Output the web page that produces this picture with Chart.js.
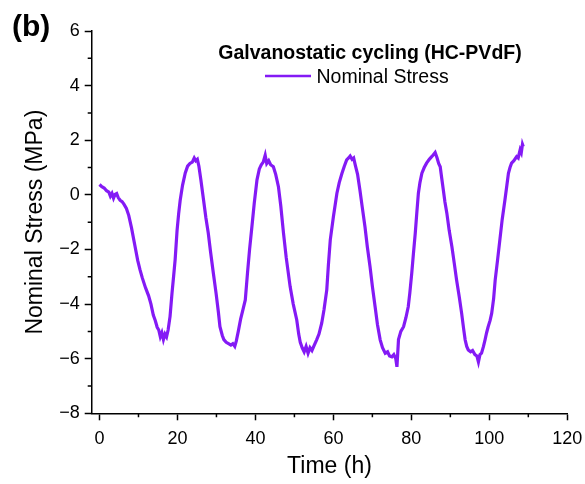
<!DOCTYPE html>
<html>
<head>
<meta charset="utf-8">
<script src="https://cdn.jsdelivr.net/npm/chart.js@4/dist/chart.umd.min.js"></script>
<style>
  html, body { margin: 0; padding: 0; background: #ffffff; }
  #wrap { width: 585px; height: 484px; position: relative; }
</style>
</head>
<body>
<div id="wrap"><canvas id="c" width="585" height="484"></canvas></div>
<script>
// ---- data ----
const time = [0.0,0.6,1.2,1.8,2.4,2.8,3.2,3.6,4.0,4.4,4.8,5.3,5.8,6.3,6.9,7.5,8.2,9.0,9.8,10.4,11.0,11.8,12.6,13.2,13.8,14.3,14.8,15.2,15.6,16.0,16.4,16.8,17.2,17.6,18.1,18.6,19.0,19.4,19.9,20.3,20.7,21.3,22.0,22.6,23.2,23.8,24.3,24.7,25.1,25.5,26.0,26.7,27.3,27.9,28.5,29.2,29.9,30.5,30.9,31.5,31.9,32.5,33.1,33.7,34.2,34.7,35.1,35.6,36.2,36.8,37.4,38.0,38.5,39.1,39.7,40.4,41.0,41.5,42.0,42.5,42.9,43.4,43.9,44.6,45.2,45.9,46.5,47.2,47.9,48.9,49.7,50.6,51.1,51.5,52.0,52.5,53.0,53.5,54.0,54.5,55.1,55.7,56.3,57.0,57.6,58.3,58.7,59.2,60.0,60.9,61.5,62.2,62.8,63.4,63.9,64.3,64.8,65.2,65.6,66.2,66.8,67.4,68.1,68.7,69.4,70.0,70.7,71.3,72.0,72.6,73.3,73.9,74.4,75.0,75.5,76.0,76.3,76.7,77.3,78.0,78.6,79.2,79.6,80.1,80.5,81.0,81.4,81.8,82.2,82.7,83.3,83.9,84.6,85.1,85.6,86.1,86.6,87.0,87.4,87.8,88.2,88.6,89.1,89.7,90.4,91.0,91.6,92.3,92.9,93.4,93.8,94.2,94.6,95.2,95.7,96.3,96.8,97.2,97.6,98.0,98.5,98.9,99.3,99.7,100.2,100.6,101.1,101.5,102.1,102.7,103.3,104.0,104.5,104.9,105.3,105.7,106.3,107.0,107.4,107.9,108.2,108.5,108.7];
const stress = [0.38,0.30,0.25,0.15,0.10,-0.05,0.05,-0.12,0.02,0.05,-0.10,-0.20,-0.25,-0.35,-0.50,-0.75,-1.20,-1.80,-2.40,-2.75,-3.05,-3.40,-3.70,-4.00,-4.40,-4.60,-4.85,-4.95,-5.20,-5.05,-5.30,-5.10,-5.20,-4.95,-4.45,-3.60,-3.00,-2.38,-1.30,-0.70,-0.20,0.35,0.80,1.05,1.15,1.20,1.35,1.25,1.30,1.05,0.55,-0.20,-0.85,-1.40,-2.10,-2.86,-3.60,-4.30,-4.83,-5.15,-5.30,-5.40,-5.45,-5.50,-5.45,-5.55,-5.35,-5.00,-4.55,-4.20,-3.85,-2.80,-2.00,-1.16,-0.30,0.55,0.95,1.10,1.20,1.45,1.15,1.25,1.10,1.03,0.75,0.30,-0.40,-1.40,-2.30,-3.36,-4.00,-4.58,-5.10,-5.40,-5.60,-5.75,-5.55,-5.80,-5.60,-5.70,-5.50,-5.31,-5.10,-4.70,-4.20,-3.48,-2.60,-1.65,-0.80,0.06,0.45,0.79,1.05,1.28,1.35,1.42,1.30,1.35,1.10,0.75,0.18,-0.45,-1.17,-1.90,-2.63,-3.35,-4.10,-4.75,-5.31,-5.60,-5.80,-5.75,-5.90,-5.93,-5.85,-6.00,-6.30,-5.30,-5.00,-4.83,-4.50,-4.10,-3.60,-2.87,-2.20,-1.40,-0.65,0.06,0.45,0.79,1.00,1.16,1.30,1.38,1.46,1.55,1.35,1.15,1.03,0.60,0.18,-0.25,-0.67,-1.30,-1.90,-2.50,-3.12,-3.75,-4.34,-4.90,-5.31,-5.55,-5.68,-5.75,-5.70,-5.85,-5.90,-6.12,-5.85,-5.80,-5.55,-5.31,-5.05,-4.83,-4.60,-4.34,-3.80,-3.12,-2.40,-1.65,-0.90,-0.19,0.35,0.79,1.00,1.16,1.25,1.40,1.35,1.65,1.55,1.85,1.77];
const xMajorTicks = [0, 20, 40, 60, 80, 100, 120];
const xMinorTicks = [10, 30, 50, 70, 90, 110];
const yMajorTicks = [-8, -6, -4, -2, 0, 2, 4, 6];
const yMinorTicks = [-7, -5, -3, -1, 1, 3, 5];
const seriesName = 'Nominal Stress';
const chartTitle = 'Galvanostatic cycling (HC-PVdF)';
const panelLabel = '(b)';
const xTitle = 'Time (h)';
const yTitle = 'Nominal Stress (MPa)';

const FONT = '"Liberation Sans", Arial, Helvetica, sans-serif';
const LINE_COLOR = 'rgb(132, 26, 245)';

const points = time.map((t, i) => ({ x: t, y: stress[i] }));

const overlay = {
  id: 'overlay',
  afterDraw(chart) {
    const ctx = chart.ctx;
    const xs = chart.scales.x, ys = chart.scales.y;
    ctx.save();
    // minor ticks
    ctx.strokeStyle = '#000';
    ctx.lineWidth = 1.5;
    ctx.beginPath();
    const yAxisX = xs.left;
    yMinorTicks.forEach(v => {
      const py = ys.getPixelForValue(v);
      ctx.moveTo(yAxisX, py); ctx.lineTo(yAxisX - 4, py);
    });
    const xAxisY = ys.bottom;
    xMinorTicks.forEach(v => {
      const px = xs.getPixelForValue(v);
      ctx.moveTo(px, xAxisY); ctx.lineTo(px, xAxisY + 4);
    });
    ctx.stroke();

    // panel label
    ctx.fillStyle = '#000';
    ctx.textBaseline = 'alphabetic';
    ctx.textAlign = 'left';
    ctx.font = 'bold 30px ' + FONT;
    ctx.fillText(panelLabel, 12, 36);

    // title
    ctx.font = 'bold 19.5px ' + FONT;
    ctx.textAlign = 'center';
    ctx.fillText(chartTitle, 370, 59);

    // legend
    ctx.strokeStyle = LINE_COLOR;
    ctx.lineWidth = 2.5;
    ctx.beginPath();
    ctx.moveTo(265, 76); ctx.lineTo(311, 76);
    ctx.stroke();
    ctx.font = '19.5px ' + FONT;
    ctx.textAlign = 'left';
    ctx.fillText(seriesName, 316.5, 83);
    ctx.restore();
  }
};

new Chart(document.getElementById('c'), {
  type: 'line',
  data: {
    datasets: [{
      label: seriesName,
      data: points,
      borderColor: LINE_COLOR,
      backgroundColor: LINE_COLOR,
      borderWidth: 3.2,
      pointRadius: 0,
      tension: 0,
      fill: false
    }]
  },
  options: {
    responsive: false,
    animation: false,
    devicePixelRatio: 1,
    layout: { padding: { left: 0, right: 17.7, top: 31, bottom: 4 } },
    plugins: { legend: { display: false }, title: { display: false }, tooltip: { enabled: false } },
    scales: {
      x: {
        type: 'linear',
        min: -2,
        max: 120,
        afterBuildTicks(scale) { scale.ticks = xMajorTicks.map(v => ({ value: v })); },
        afterFit(scale) { scale.height = 66.7; scale.paddingLeft = 0; scale.paddingRight = 0; },
        ticks: { color: '#000', font: { family: FONT, size: 18 }, padding: 8, maxRotation: 0, autoSkip: false },
        grid: { display: true, drawOnChartArea: false, drawTicks: true, tickLength: 7, tickColor: '#000', tickWidth: 1.5 },
        border: { display: true, color: '#000', width: 1.5 },
        title: { display: true, text: xTitle, color: '#000', font: { family: FONT, size: 23 }, padding: { top: 0, bottom: 0 } }
      },
      y: {
        min: -8,
        max: 6,
        afterBuildTicks(scale) { scale.ticks = yMajorTicks.map(v => ({ value: v })); },
        afterFit(scale) { scale.width = 91.7; scale.paddingTop = 0; scale.paddingBottom = 0; },
        ticks: { color: '#000', font: { family: FONT, size: 18 }, padding: 5, autoSkip: false,
                 callback: v => (v < 0 ? '\u2212' + Math.abs(v) : String(v)) },
        grid: { display: true, drawOnChartArea: false, drawTicks: true, tickLength: 7, tickColor: '#000', tickWidth: 1.5 },
        border: { display: true, color: '#000', width: 1.5 },
        title: { display: true, text: yTitle, color: '#000', font: { family: FONT, size: 23 }, padding: { top: 22, bottom: 0 } }
      }
    }
  },
  plugins: [overlay]
});
</script>
</body>
</html>
